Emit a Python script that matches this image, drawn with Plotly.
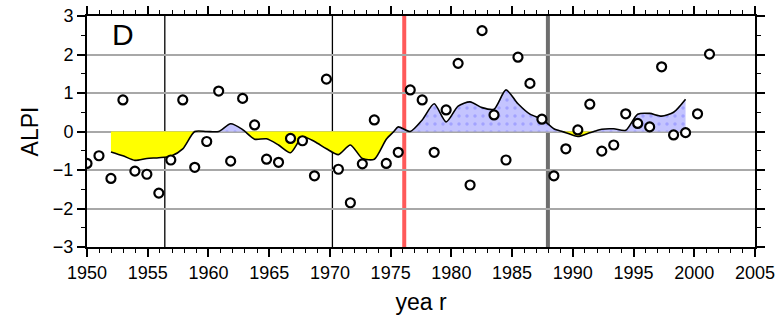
import numpy as np
import plotly.graph_objects as go

# ---- data ----
point_years = list(range(1950, 2003))
alpi_values = [-0.83, -0.63, -1.22, 0.82, -1.03, -1.11, -1.60, -0.74, 0.82, -0.93,
               -0.26, 1.05, -0.77, 0.86, 0.17, -0.72, -0.80, -0.18, -0.24, -1.15,
               1.36, -0.98, -1.85, -0.84, 0.30, -0.83, -0.54, 1.08, 0.82, -0.54,
               0.56, 1.77, -1.39, 2.62, 0.43, -0.74, 1.93, 1.25, 0.32, -1.15,
               -0.45, 0.04, 0.71, -0.51, -0.35, 0.46, 0.21, 0.12, 1.68, -0.09,
               -0.03, 0.46, 2.01]

smooth_years = list(range(1952, 2001))
smooth_values = [-0.53, -0.63, -0.75, -0.70, -0.68, -0.64, -0.45, 0.00, 0.00, 0.00,
                 0.20, 0.05, -0.20, -0.19, -0.35, -0.55, -0.14, -0.26, -0.45, -0.60,
                 -0.35, -0.70, -0.72, -0.20, 0.12, 0.00, 0.30, 0.72, 0.25, 0.66,
                 0.77, 0.62, 0.58, 1.08, 0.72, 0.45, 0.32, 0.07, -0.03, -0.13,
                 -0.03, 0.06, 0.07, 0.03, 0.45, 0.47, 0.40, 0.50, 0.84]

regime_lines = [1956.5, 1970.5]      # thin black
red_line = [1976.5]
gray_line = [1988.5]

x_tick_years = list(range(1950, 2006, 5))
y_ticks = [-3, -2, -1, 0, 1, 2, 3]
panel_label = "D"

# ---- split smoothed curve into positive / negative parts ----
xs, ys = [], []
for i in range(len(smooth_years)):
    xs.append(smooth_years[i]); ys.append(smooth_values[i])
    if i < len(smooth_years) - 1:
        a, b = smooth_values[i], smooth_values[i + 1]
        if a * b < 0:
            t = a / (a - b)
            xs.append(smooth_years[i] + t * (smooth_years[i + 1] - smooth_years[i]))
            ys.append(0.0)
xs = np.array(xs); ys = np.array(ys)
pos = np.maximum(ys, 0); neg = np.minimum(ys, 0)

SM = 0.7
fig = go.Figure()
fig.add_trace(go.Scatter(x=xs, y=neg, mode="lines",
                         line=dict(width=0, color="#ffff00", shape="spline", smoothing=SM),
                         fill="tozeroy", fillcolor="#ffff00", showlegend=False, hoverinfo="skip"))
fig.add_trace(go.Scatter(x=xs, y=pos, mode="lines",
                         line=dict(width=0, color="#c4c4ff", shape="spline", smoothing=SM),
                         fill="tozeroy", fillcolor="#c4c4ff",
                         fillpattern=dict(shape=".", bgcolor="#c4c4ff", fgcolor="#8080ff",
                                          size=8, solidity=0.15),
                         showlegend=False, hoverinfo="skip"))
fig.add_trace(go.Scatter(x=xs, y=ys, mode="lines",
                         line=dict(color="black", width=1.6, shape="spline", smoothing=SM),
                         showlegend=False))
fig.add_trace(go.Scatter(x=point_years, y=alpi_values, mode="markers",
                         marker=dict(symbol="circle", size=9, color="white",
                                     line=dict(color="black", width=2.2)),
                         showlegend=False))
# empty trace that carries the labelled year axis
fig.add_trace(go.Scatter(x=x_tick_years, y=[None] * len(x_tick_years), xaxis="x2",
                         mode="markers", showlegend=False, hoverinfo="skip"))

for xv in regime_lines:
    fig.add_shape(type="line", xref="x", yref="paper", x0=xv, x1=xv, y0=0, y1=1,
                  line=dict(color="black", width=1.3), layer="below")
for xv in red_line:
    fig.add_shape(type="line", xref="x", yref="paper", x0=xv, x1=xv, y0=0, y1=1,
                  line=dict(color="#ff5a5a", width=4), layer="below")
for xv in gray_line:
    fig.add_shape(type="line", xref="x", yref="paper", x0=xv, x1=xv, y0=0, y1=1,
                  line=dict(color="#6e6e6e", width=4), layer="below")

fig.add_annotation(text=panel_label, xref="paper", yref="paper", x=0.054, y=0.918,
                   xanchor="center", yanchor="middle",
                   showarrow=False, font=dict(size=30, color="black",
                                              family="Liberation Sans, Arial, sans-serif"))

tick_font = dict(size=18, color="black", family="Liberation Sans, Arial, sans-serif")
title_font = dict(size=23, color="black", family="Liberation Sans, Arial, sans-serif")

fig.update_layout(
    width=776, height=320,
    margin=dict(l=87, r=21, t=16, b=73),
    paper_bgcolor="white", plot_bgcolor="white",
    showlegend=False,
    # data axis (hidden): point spacing of the original panel
    xaxis=dict(range=[1950, 2005.8], visible=False, showgrid=False, zeroline=False,
               automargin=False),
    # visible labelled year axis
    xaxis2=dict(overlaying="x", side="bottom", anchor="y", range=[1950, 2005],
                automargin=False,
                tickvals=x_tick_years, ticks="outside", ticklen=8, tickwidth=1.5,
                tickcolor="black", showline=True, linecolor="black", linewidth=2,
                mirror="ticks", showgrid=False, zeroline=False, tickfont=tick_font,
                minor=dict(dtick=1, ticks="outside", ticklen=4, tickcolor="black",
                           tickwidth=1, showgrid=False),
                title=dict(text="yea r", font=title_font, standoff=12)),
    yaxis=dict(range=[-3, 3], tickvals=y_ticks, ticks="outside", ticklen=8, tickwidth=1.5,
               automargin=False,
               tickcolor="black", showline=True, linecolor="black", linewidth=2,
               mirror="ticks", showgrid=True, gridcolor="#a8a8a8", gridwidth=1.5,
               zeroline=False, tickfont=tick_font,
               minor=dict(dtick=0.5, ticks="outside", ticklen=4, tickcolor="black",
                          tickwidth=1, showgrid=False),
               title=dict(text="ALPI", font=title_font, standoff=8)),
)

fig.write_html("out.html")
